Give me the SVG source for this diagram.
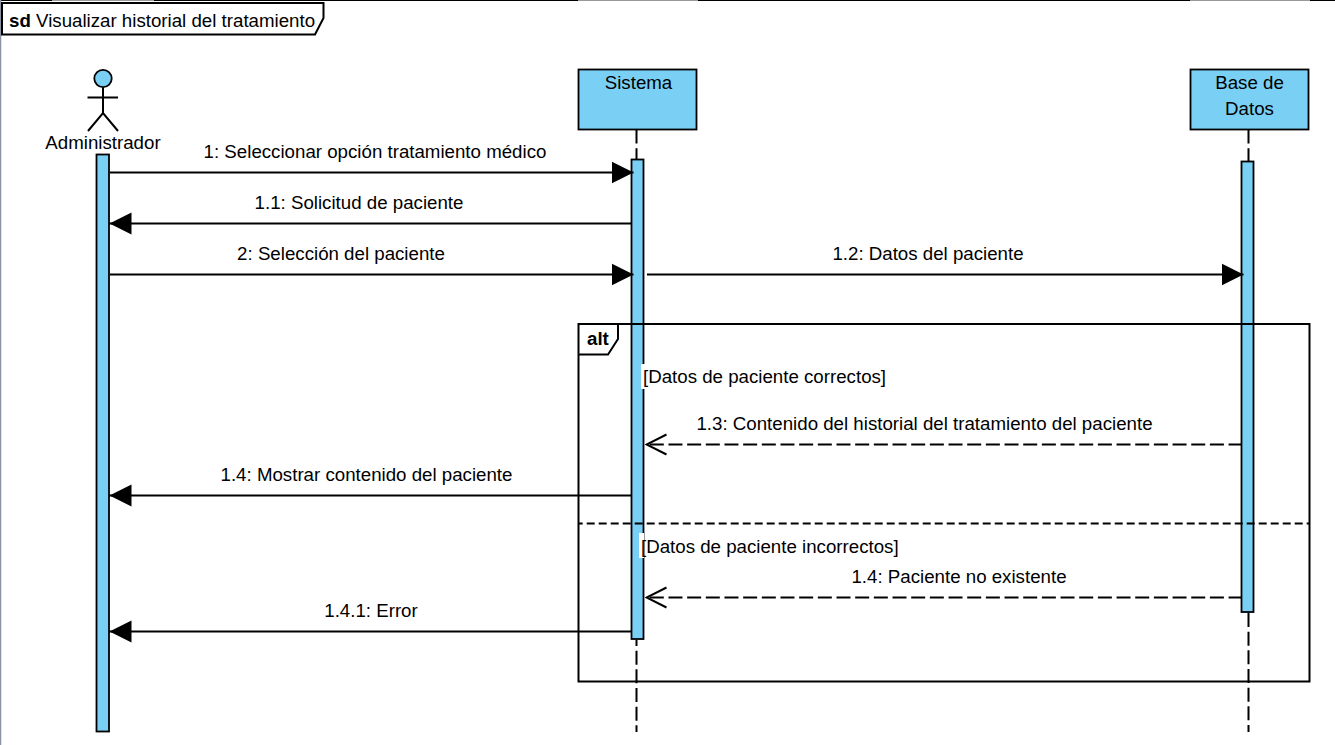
<svg xmlns="http://www.w3.org/2000/svg" width="1335" height="745" viewBox="0 0 1335 745">
<style>
.t{font-family:"Liberation Sans",Arial,sans-serif;font-size:18.700px;fill:#000}
.m{text-anchor:middle}
.b{font-weight:bold}
.s{fill:none;stroke:#000;stroke-width:2}
.f{fill:#7acff5;stroke:#000;stroke-width:1.800}
.d{stroke-dasharray:14 4.670;stroke-dashoffset:1.570}
.sep{stroke-dasharray:8 4;stroke-dashoffset:4.300}
.ll{fill:none;stroke:#000;stroke-width:2;stroke-dasharray:14 4.670}
</style>
<defs>
<marker id="solid" markerUnits="userSpaceOnUse" markerWidth="24" markerHeight="24" refX="22" refY="12" orient="auto"><path d="M0 1L22 12L0 23Z" fill="#000"/></marker>
<marker id="open" markerUnits="userSpaceOnUse" markerWidth="24" markerHeight="24" refX="22" refY="12" orient="auto"><path d="M2 2L22 12L2 22" fill="none" stroke="#000" stroke-width="2"/></marker>
</defs>
<rect width="1335" height="745" fill="#fff"/>
<g id="window-edge">
<path d="M0 0H1335" stroke="#000" stroke-width="2"/>
<path d="M52 0H154M578 0H698M1190 0H1310" stroke="#999" stroke-width="2"/>
<path d="M0.500 0V745" stroke="#8a93a3" stroke-width="1.500"/>
</g>
<g id="frame-sd">
<path class="s" d="M2 3H323.500V18L315 34.500H2Z" style="fill:#fff"/>
<text class="t" x="9" y="27"><tspan class="b">sd</tspan> Visualizar historial del tratamiento</text>
</g>
<g id="lifelines">
<path class="ll" d="M636.500 129.500V159"/>
<path class="ll" style="stroke-dashoffset:8" d="M636.500 640V732"/>
<path class="ll" d="M1248.500 129.500V161M1248.500 613V732"/>
</g>
<g id="node-administrador">
<circle class="f" cx="103" cy="78.500" r="8.700"/>
<path class="s" d="M87.500 97.500H118M103 87.500V113M88 131L103 113L118 131"/>
<text class="t m" x="103" y="149">Administrador</text>
<rect class="f" x="96.500" y="154.500" width="12.500" height="577"/>
</g>
<g id="node-sistema">
<rect class="f" x="578.500" y="69.500" width="118" height="60"/>
<text class="t m" x="638.500" y="89">Sistema</text>
<rect class="f" x="631.500" y="159.500" width="12" height="479.500"/>
</g>
<g id="node-base-de-datos">
<rect class="f" x="1190.500" y="69.500" width="118" height="60"/>
<text class="t m" x="1249.500" y="89">Base de</text>
<text class="t m" x="1249.500" y="115">Datos</text>
<rect class="f" x="1241.500" y="161.500" width="12" height="450.500"/>
</g>
<g id="frame-alt">
<rect class="s" x="578.500" y="324" width="731" height="357.500"/>
<path class="s" d="M578.500 354.500H608L618 339V324" style="fill:#fff"/>
<text class="t b" x="587" y="345">alt</text>
<path class="s sep" d="M579 523.500H1309"/>
</g>
<g id="guard-labels">
<rect x="641" y="364" width="4" height="25" fill="#fff"/>
<text class="t" x="643" y="383">[Datos de paciente correctos]</text>
<rect x="639" y="533" width="5" height="25" fill="#fff"/>
<text class="t" x="641" y="553">[Datos de paciente incorrectos]</text>
</g>
<g id="connectors">
<path class="s" marker-end="url(#solid)" d="M110 172.500H633.500"/>
<path class="s" marker-end="url(#solid)" d="M631 223.500H109.500"/>
<path class="s" marker-end="url(#solid)" d="M110 274.500H633.500"/>
<path class="s" marker-end="url(#solid)" d="M647 274.500H1243.500"/>
<path class="s d" marker-end="url(#open)" d="M1241 444.500H646.500"/>
<path class="s" marker-end="url(#solid)" d="M631 495.500H109.500"/>
<path class="s d" marker-end="url(#open)" d="M1241 597.500H646.500"/>
<path class="s" marker-end="url(#solid)" d="M631 631.500H109.500"/>
<text class="t m" x="375" y="158">1: Seleccionar opción tratamiento médico</text>
<text class="t m" x="359" y="209">1.1: Solicitud de paciente</text>
<text class="t m" x="341" y="260">2: Selección del paciente</text>
<text class="t m" x="928" y="260">1.2: Datos del paciente</text>
<text class="t m" x="924.500" y="430">1.3: Contenido del historial del tratamiento del paciente</text>
<text class="t m" x="366.500" y="481">1.4: Mostrar contenido del paciente</text>
<text class="t m" x="959" y="583">1.4: Paciente no existente</text>
<text class="t m" x="371" y="617">1.4.1: Error</text>
</g>
</svg>
